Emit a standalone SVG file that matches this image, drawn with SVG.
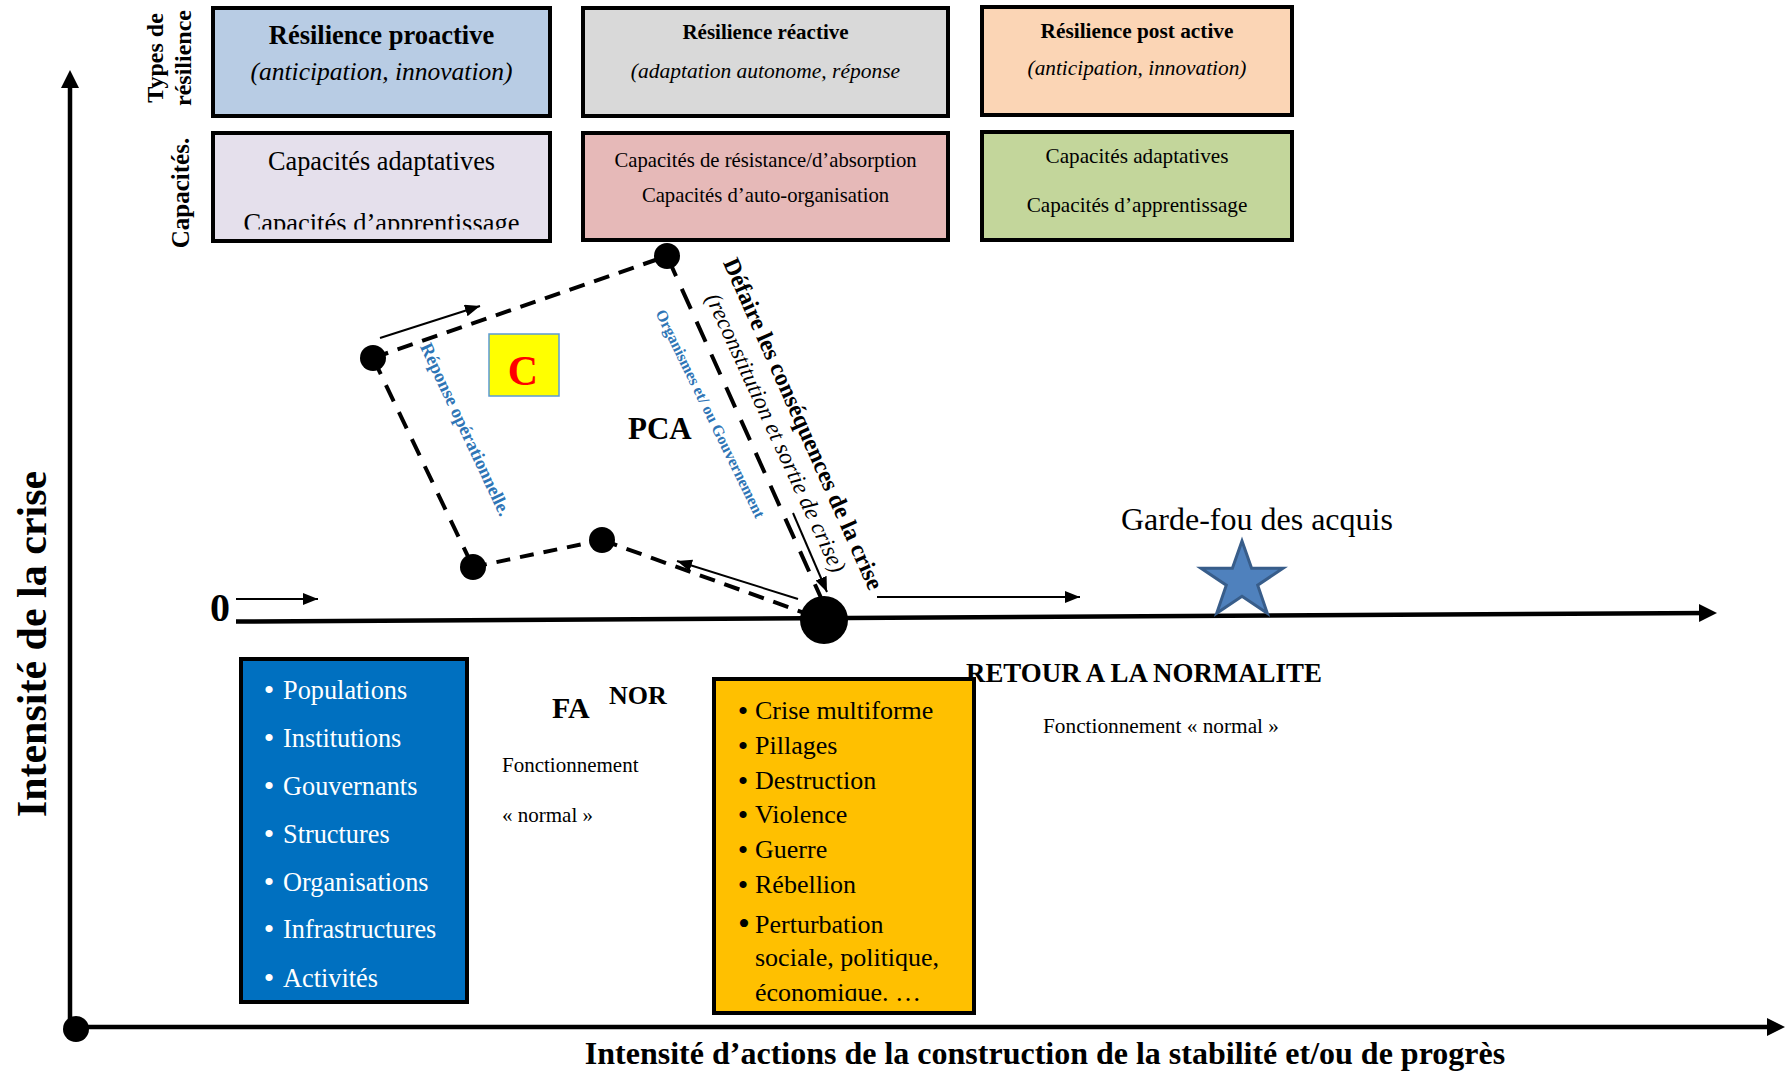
<svg xmlns="http://www.w3.org/2000/svg" width="1791" height="1075" viewBox="0 0 1791 1075">
<style>
  text { font-family: "Liberation Serif", "Times New Roman", serif; fill: #000; }
  .b { font-weight: bold; }
  .i { font-style: italic; }
  .box { stroke: #000; stroke-width: 4; }
  .mid { text-anchor: middle; }
  .white { fill: #fff; }
  .blue { fill: #2E75B6; font-weight: bold; }
  .dash { fill: none; stroke: #000; stroke-width: 4; }
  .thin { fill: none; stroke: #000; stroke-width: 2; }
  .axis { fill: none; stroke: #000; stroke-width: 4.5; }
  .dot { fill: #000; }
</style>
<defs>
  <marker id="ahBig" markerUnits="userSpaceOnUse" markerWidth="20" markerHeight="20" refX="12" refY="9" orient="auto">
    <path d="M0,0 L18,9 L0,18 z" fill="#000"/>
  </marker>
  <marker id="ahThin" markerUnits="userSpaceOnUse" markerWidth="16" markerHeight="14" refX="15" refY="6" orient="auto">
    <path d="M0,0 L15,6 L0,12 z" fill="#000"/>
  </marker>
  <clipPath id="clipCap1"><rect x="213" y="133" width="337" height="96.5"/></clipPath>
  <clipPath id="clipCrise"><rect x="714" y="679" width="260" height="322"/></clipPath>
</defs>
<rect width="1791" height="1075" fill="#fff"/>

<!-- side labels -->
<g id="label-types">
  <text class="b mid" font-size="24" transform="translate(163,58) rotate(-90)">Types de</text>
  <text class="b mid" font-size="24" transform="translate(191,58) rotate(-90)">résilience</text>
</g>
<g id="label-capacites">
  <text class="b mid" font-size="25" transform="translate(189,193) rotate(-90)">Capacités.</text>
</g>

<!-- top boxes -->
<g id="res-proactive">
  <rect class="box" x="213" y="8" width="337" height="108" fill="#B8CCE4"/>
  <text class="b mid" x="381.5" y="44" font-size="26.5">Résilience proactive</text>
  <text class="i mid" x="381.5" y="80" font-size="25.5">(anticipation, innovation)</text>
</g>
<g id="cap-proactive">
  <rect class="box" x="213" y="133" width="337" height="108" fill="#E5E0EC"/>
  <text class="mid" x="381.5" y="170" font-size="26.3">Capacités adaptatives</text>
  <text class="mid" x="381.5" y="232" font-size="26.5" clip-path="url(#clipCap1)">Capacités d’apprentissage</text>
</g>
<g id="res-reactive">
  <rect class="box" x="583" y="8" width="365" height="108" fill="#D9D9D9"/>
  <text class="b mid" x="765.5" y="39" font-size="21">Résilience réactive</text>
  <text class="i mid" x="765.5" y="78" font-size="21.5">(adaptation autonome, réponse</text>
</g>
<g id="cap-reactive">
  <rect class="box" x="583" y="133" width="365" height="107" fill="#E6B9B8"/>
  <text class="mid" x="765.5" y="167" font-size="20.7">Capacités de résistance/d’absorption</text>
  <text class="mid" x="765.5" y="202" font-size="20.7">Capacités d’auto-organisation</text>
</g>
<g id="res-postactive">
  <rect class="box" x="982" y="7" width="310" height="108" fill="#FBD5B5"/>
  <text class="b mid" x="1137" y="38" font-size="21.3">Résilience post active</text>
  <text class="i mid" x="1137" y="75" font-size="21.3">(anticipation, innovation)</text>
</g>
<g id="cap-postactive">
  <rect class="box" x="982" y="132" width="310" height="108" fill="#C3D69B"/>
  <text class="mid" x="1137" y="163" font-size="21.2">Capacités adaptatives</text>
  <text class="mid" x="1137" y="212" font-size="21.2">Capacités d’apprentissage</text>
</g>

<!-- axes labels -->
<g id="axis-y-label">
  <text class="b mid" font-size="42" transform="translate(46,644) rotate(-90)">Intensité de la crise</text>
</g>
<g id="axis-x-label">
  <text class="b mid" x="1045" y="1064" font-size="32">Intensité d’actions de la construction de la stabilité et/ou de progrès</text>
</g>

<!-- connectors -->
<g id="connectors">
  <line class="axis" x1="70" y1="1027" x2="70" y2="76" marker-end="url(#ahBig)"/>
  <line class="axis" x1="70" y1="1027" x2="1779" y2="1027" marker-end="url(#ahBig)"/>
  <line class="axis" x1="236" y1="621.5" x2="1711" y2="613" stroke-width="5" marker-end="url(#ahBig)"/>

  <line class="thin" x1="236" y1="599" x2="318" y2="599" marker-end="url(#ahThin)"/>
  <line class="thin" x1="877" y1="597" x2="1080" y2="597" marker-end="url(#ahThin)"/>
  <line class="thin" x1="380" y1="338" x2="480" y2="306" marker-end="url(#ahThin)"/>
  <line class="thin" x1="798" y1="599" x2="677" y2="561" marker-end="url(#ahThin)"/>
  <line class="thin" x1="793" y1="513" x2="827" y2="592" marker-end="url(#ahThin)"/>

  <line class="dash" x1="373" y1="358" x2="667" y2="256" stroke-dasharray="16 10"/>
  <line class="dash" x1="373" y1="358" x2="473" y2="567" stroke-dasharray="18 12"/>
  <line class="dash" x1="473" y1="567" x2="602" y2="540" stroke-dasharray="14 10"/>
  <line class="dash" x1="602" y1="540" x2="824" y2="620" stroke-dasharray="16 10"/>
  <line class="dash" x1="667" y1="256" x2="822" y2="600" stroke-dasharray="22 14"/>
</g>

<!-- points -->
<g id="origin"><circle class="dot" cx="76" cy="1029" r="13"/></g>
<g id="point-1"><circle class="dot" cx="373" cy="358" r="13"/></g>
<g id="point-2"><circle class="dot" cx="667" cy="256" r="13"/></g>
<g id="point-3"><circle class="dot" cx="473" cy="567" r="13"/></g>
<g id="point-4"><circle class="dot" cx="602" cy="540" r="13"/></g>
<g id="point-crise"><circle class="dot" cx="824" cy="620" r="24"/></g>

<g id="zero-label"><text class="b" x="210" y="621" font-size="40">0</text></g>

<g id="c-box">
  <rect x="489" y="334" width="70" height="62" fill="#FFFF00" stroke="#5B9BD5" stroke-width="1.5"/>
  <text class="b mid" x="523" y="385" font-size="42" style="fill:#FF0000">C</text>
</g>
<g id="pca-label"><text class="b" x="628" y="439" font-size="31">PCA</text></g>

<g id="label-reponse">
  <text class="blue mid" font-size="18.5" transform="translate(460,432) rotate(64.8)">Réponse opérationnelle.</text>
</g>
<g id="label-organismes">
  <text class="blue mid" font-size="16" transform="translate(705.5,416) rotate(64)">Organismes et/ ou Gouvernement</text>
</g>
<g id="label-defaire">
  <text class="b mid" font-size="24" transform="translate(796,427) rotate(66)">Défaire les conséquences de la crise</text>
  <text class="i mid" font-size="23.3" transform="translate(769,436) rotate(65.3)">(reconstitution et sortie de crise)</text>
</g>

<g id="garde-fou">
  <text x="1121" y="530" font-size="32">Garde-fou des acquis</text>
  <polygon points="1242,541 1251.6,568.3 1283,568.3 1257.7,585.2 1267.3,613.2 1242,596.3 1216.7,613.2 1226.3,585.2 1201,568.3 1232.4,568.3" fill="#4F81BD" stroke="#385D8A" stroke-width="3" stroke-linejoin="miter"/>
</g>

<g id="retour">
  <text class="b" x="966" y="682" font-size="26.9">RETOUR A LA NORMALITE</text>
  <text x="1043" y="733" font-size="21.3">Fonctionnement « normal »</text>
</g>

<g id="fa-nor">
  <text class="b" x="552" y="718" font-size="30">FA</text>
  <text class="b" x="609" y="704" font-size="26">NOR</text>
  <text x="502" y="772" font-size="21">Fonctionnement</text>
  <text x="502" y="822" font-size="21">« normal »</text>
</g>

<g id="acteurs">
  <rect class="box" x="241" y="659" width="226" height="343" fill="#0070C0" stroke-width="3.5"/>
  <g font-size="26.3">
    <text class="white mid" x="269" y="700" font-size="30">•</text><text class="white" x="283" y="699">Populations</text>
    <text class="white mid" x="269" y="748" font-size="30">•</text><text class="white" x="283" y="747">Institutions</text>
    <text class="white mid" x="269" y="796" font-size="30">•</text><text class="white" x="283" y="795">Gouvernants</text>
    <text class="white mid" x="269" y="844" font-size="30">•</text><text class="white" x="283" y="843">Structures</text>
    <text class="white mid" x="269" y="892" font-size="30">•</text><text class="white" x="283" y="891">Organisations</text>
    <text class="white mid" x="269" y="939" font-size="30">•</text><text class="white" x="283" y="938">Infrastructures</text>
    <text class="white mid" x="269" y="988" font-size="30">•</text><text class="white" x="283" y="987">Activités</text>
  </g>
</g>

<g id="crise">
  <rect class="box" x="714" y="679" width="260" height="334" fill="#FFC000"/>
  <g font-size="26" clip-path="url(#clipCrise)">
    <text class="mid" x="743" y="721" font-size="30">•</text><text x="755" y="719">Crise multiforme</text>
    <text class="mid" x="743" y="756" font-size="30">•</text><text x="755" y="754">Pillages</text>
    <text class="mid" x="743" y="791" font-size="30">•</text><text x="755" y="789">Destruction</text>
    <text class="mid" x="743" y="825" font-size="30">•</text><text x="755" y="823">Violence</text>
    <text class="mid" x="743" y="860" font-size="30">•</text><text x="755" y="858">Guerre</text>
    <text class="mid" x="743" y="895" font-size="30">•</text><text x="755" y="893">Rébellion</text>
    <text class="mid" x="744" y="935" font-size="34">•</text><text x="755" y="933">Perturbation</text>
    <text x="755" y="966">sociale, politique,</text>
    <text x="755" y="1001">économique. …</text>
  </g>
</g>
</svg>
